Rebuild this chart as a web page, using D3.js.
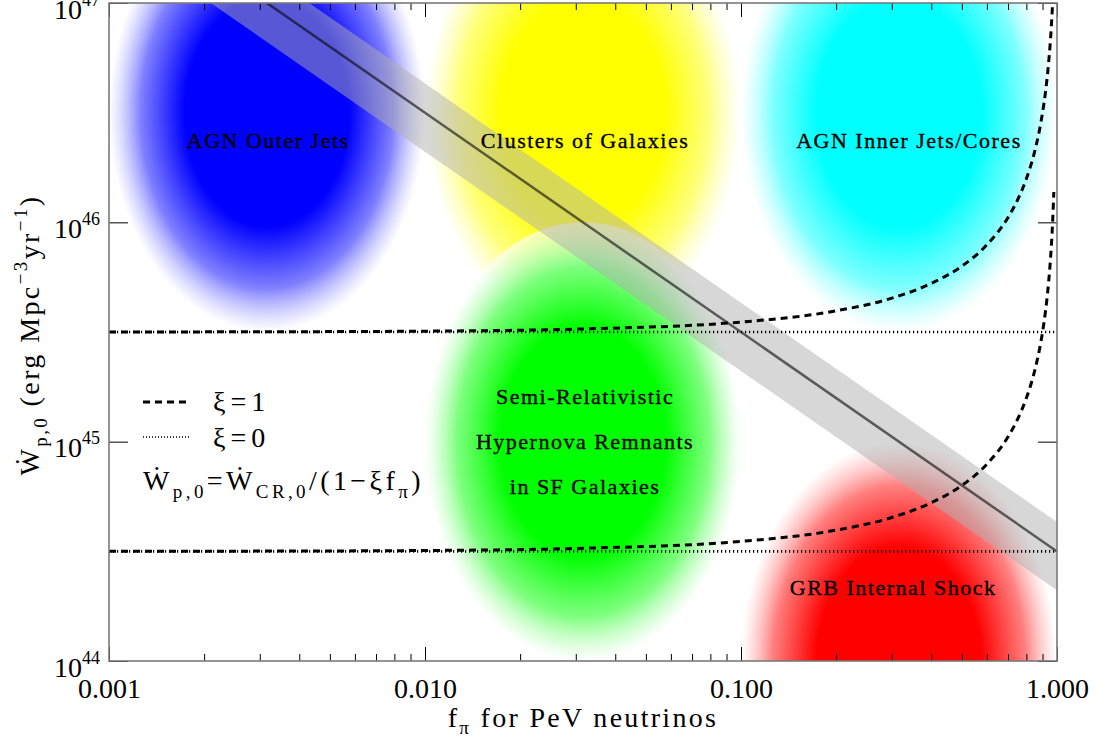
<!DOCTYPE html>
<html>
<head>
<meta charset="utf-8">
<script src="https://cdn.jsdelivr.net/npm/d3@7"></script>
<style>
  html, body { margin: 0; padding: 0; background: #fff; }
  svg { display: block; }
  text { font-family: "Liberation Serif", "DejaVu Serif", serif; fill: #000; }
</style>
</head>
<body>
<svg id="chart" width="1105" height="746"></svg>
<script>
// ---- data ---------------------------------------------------------------
// pion-production efficiency f_pi sampled along the xi = 1 curves
const fPi = [0.001, 0.003, 0.01, 0.03, 0.1, 0.2, 0.3, 0.4, 0.5, 0.6, 0.7, 0.75,
             0.8, 0.85, 0.88, 0.9, 0.92, 0.94, 0.95, 0.96, 0.97, 0.977];
// xi = 1, upper cosmic-ray budget (erg Mpc^-3 yr^-1)
const wXi1High = [3.163e45, 3.17e45, 3.19e45, 3.26e45, 3.51e45, 3.95e45, 4.51e45,
                  5.27e45, 6.32e45, 7.90e45, 1.053e46, 1.264e46, 1.58e46, 2.107e46,
                  2.633e46, 3.16e46, 3.95e46, 5.27e46, 6.32e46, 7.9e46, 1.053e47, 1.374e47];
// xi = 1, lower cosmic-ray budget
const wXi1Low = [3.163e44, 3.17e44, 3.19e44, 3.26e44, 3.51e44, 3.95e44, 4.51e44,
                 5.27e44, 6.32e44, 7.90e44, 1.053e45, 1.264e45, 1.58e45, 2.107e45,
                 2.633e45, 3.16e45, 3.95e45, 5.27e45, 6.32e45, 7.9e45, 1.053e46, 1.374e46];
// xi = 0 levels (flat in f_pi)
const wXi0Levels = [3.16e45, 3.16e44];

// PeV neutrino requirement band: centre and edges at the ends of the f_pi range
const fRange = [0.001, 1];
const bandCenter = [3.16e47, 3.16e44];
const bandUpper = [4.3e47, 4.3e44];
const bandLower = [2.1e47, 2.1e44];

// source classes: centre (f_pi, W) and half extent in decades
const sourceNames = ["AGN Outer Jets", "Clusters of Galaxies", "AGN Inner Jets/Cores",
                     "Semi-Relativistic Hypernova Remnants in SF Galaxies", "GRB Internal Shock"];
const sourceF = [0.00316, 0.0316, 0.316, 0.0316, 0.316];
const sourceW = [3.16e46, 3.16e46, 3.16e46, 1.0e45, 1.0e44];
const sourceHalfF = [0.5, 0.5, 0.5, 0.5, 0.5];
const sourceHalfW = [1.0, 1.0, 1.0, 1.0, 1.0];
const sourceColors = ["#0000ff", "#ffff00", "#00ffff", "#00ff00", "#ff0000"];
const labelLines = [["AGN Outer Jets"], ["Clusters of Galaxies"], ["AGN Inner Jets/Cores"],
                    ["Semi-Relativistic", "Hypernova Remnants", "in SF Galaxies"],
                    ["GRB Internal Shock"]];
const labelF = [0.00319, 0.0321, 0.340, 0.0321, 0.303];
const labelW = [2.35e46, 2.35e46, 2.35e46, 1.0e45, 2.15e44];

// axes
const xTickValues = [0.001, 0.01, 0.1, 1];
const xTickLabels = ["0.001", "0.010", "0.100", "1.000"];
const yTickValues = [1e44, 1e45, 1e46, 1e47];
const yTickExponents = ["44", "45", "46", "47"];

// ---- layout -------------------------------------------------------------
const m = { left: 109, right: 1057, top: 3, bottom: 661 };
const svg = d3.select("#chart");
const x = d3.scaleLog().domain([0.001, 1]).range([m.left, m.right]);
const y = d3.scaleLog().domain([1e44, 1e47]).range([m.bottom, m.top]);

const defs = svg.append("defs");
defs.append("clipPath").attr("id", "plotClip")
  .append("rect")
  .attr("x", m.left).attr("y", m.top)
  .attr("width", m.right - m.left).attr("height", m.bottom - m.top);

// each region: solid core fading out to a translucent white rim
sourceColors.forEach((c, i) => {
  const g = defs.append("radialGradient").attr("id", "blob" + i)
    .attr("cx", "50%").attr("cy", "50%").attr("r", "50%");
  g.append("stop").attr("offset", 0).attr("stop-color", c);
  g.append("stop").attr("offset", 0.52).attr("stop-color", c);
  g.append("stop").attr("offset", 0.8).attr("stop-color", d3.interpolateRgb(c, "#fff")(0.5));
  g.append("stop").attr("offset", 1).attr("stop-color", "#fff").attr("stop-opacity", 0.62);
});

const plot = svg.append("g").attr("clip-path", "url(#plotClip)");

// source regions
plot.selectAll("ellipse.src")
  .data(sourceNames)
  .join("ellipse")
  .attr("class", "src")
  .attr("cx", (d, i) => x(sourceF[i]))
  .attr("cy", (d, i) => y(sourceW[i]))
  .attr("rx", (d, i) => x(sourceF[i] * Math.pow(10, sourceHalfF[i])) - x(sourceF[i]))
  .attr("ry", (d, i) => y(sourceW[i] / Math.pow(10, sourceHalfW[i])) - y(sourceW[i]))
  .attr("fill", (d, i) => `url(#blob${i})`);

// neutrino band
const bandData = fRange.map((f, i) => ({ f, lo: bandLower[i], hi: bandUpper[i], c: bandCenter[i] }));
plot.append("path")
  .datum(bandData)
  .attr("d", d3.area().x(d => x(d.f)).y0(d => y(d.lo)).y1(d => y(d.hi)))
  .attr("fill", "rgb(176,176,176)")
  .attr("fill-opacity", 0.5);
plot.append("path")
  .datum(bandData)
  .attr("d", d3.line().x(d => x(d.f)).y(d => y(d.c)))
  .attr("fill", "none")
  .attr("stroke", "#000")
  .attr("stroke-opacity", 0.58)
  .attr("stroke-width", 2.5);

// xi = 0 (dotted)
wXi0Levels.forEach(w => {
  plot.append("path")
    .datum(fRange.map(f => ({ f, w })))
    .attr("d", d3.line().x(d => x(d.f)).y(d => y(d.w)))
    .attr("fill", "none")
    .attr("stroke", "#000")
    .attr("stroke-width", 2.6)
    .attr("stroke-dasharray", "1.2,2.8");
});

// xi = 1 (dashed)
const curveLine = d3.line().x(d => x(d.f)).y(d => y(d.w)).curve(d3.curveMonotoneX);
[wXi1High, wXi1Low].forEach(series => {
  plot.append("path")
    .datum(fPi.map((f, i) => ({ f, w: series[i] })))
    .attr("d", curveLine)
    .attr("fill", "none")
    .attr("stroke", "#000")
    .attr("stroke-width", 3)
    .attr("stroke-dasharray", "7,5");
});

// source labels
labelLines.forEach((lines, i) => {
  const cx = x(labelF[i]);
  const cy = y(labelW[i]);
  const gap = 45;
  lines.forEach((line, k) => {
    svg.append("text")
      .attr("x", cx)
      .attr("y", cy + (k - (lines.length - 1) / 2) * gap + 7)
      .attr("text-anchor", "middle")
      .attr("font-size", 22)
      .attr("letter-spacing", 1.5)
      .attr("stroke", "#000")
      .attr("stroke-width", 0.35)
      .text(line);
  });
});

// ---- axes ---------------------------------------------------------------
const xMinor = [];
[0.001, 0.01, 0.1].forEach(dec => { for (let k = 2; k <= 9; k++) xMinor.push(dec * k); });

function styleAxis(g) {
  g.select(".domain").remove();
  g.selectAll(".tick line").attr("stroke", "#000").attr("stroke-width", 1);
  g.attr("font-family", null).attr("font-size", null);
}

svg.append("g").attr("transform", `translate(0,${m.bottom})`)
  .call(d3.axisBottom(x).tickValues(xMinor).tickSize(-7).tickFormat(""))
  .call(styleAxis);
svg.append("g").attr("transform", `translate(0,${m.top})`)
  .call(d3.axisTop(x).tickValues(xMinor).tickSize(-7).tickFormat(""))
  .call(styleAxis);
svg.append("g").attr("transform", `translate(0,${m.top})`)
  .call(d3.axisTop(x).tickValues(xTickValues).tickSize(-14).tickFormat(""))
  .call(styleAxis);
const xAxis = svg.append("g").attr("transform", `translate(0,${m.bottom})`)
  .call(d3.axisBottom(x).tickValues(xTickValues).tickSize(-14).tickPadding(17)
        .tickFormat((d, i) => xTickLabels[i]))
  .call(styleAxis);
xAxis.selectAll(".tick text").attr("font-size", 28).attr("fill", "#000");

const yAxis = svg.append("g").attr("transform", `translate(${m.left},0)`)
  .call(d3.axisLeft(y).tickValues(yTickValues).tickSize(-19).tickPadding(9))
  .call(styleAxis);
yAxis.selectAll(".tick text").each(function (d, i) {
  const t = d3.select(this);
  t.text(null).attr("dy", null).attr("y", 15).attr("font-size", 28).attr("fill", "#000");
  t.append("tspan").text("10");
  t.append("tspan").attr("font-size", 18).attr("dy", -13).text(yTickExponents[i]);
});
svg.append("g").attr("transform", `translate(${m.right},0)`)
  .call(d3.axisRight(y).tickValues(yTickValues).tickSize(-19).tickFormat(""))
  .call(styleAxis);

// frame
svg.append("rect")
  .attr("x", m.left).attr("y", m.top)
  .attr("width", m.right - m.left).attr("height", m.bottom - m.top)
  .attr("fill", "none").attr("stroke", "#7a7a7a").attr("stroke-width", 1.6);

// axis titles
const xt = svg.append("text")
  .attr("x", (m.left + m.right) / 2).attr("y", 727)
  .attr("text-anchor", "middle").attr("font-size", 28).attr("letter-spacing", 2.3);
xt.append("tspan").text("f");
xt.append("tspan").attr("font-size", 19).attr("dy", 7).text("π");
xt.append("tspan").attr("dy", -7).text(" for PeV neutrinos");

const yt = svg.append("text")
  .attr("transform", `translate(39,${(m.top + m.bottom) / 2 + 3}) rotate(-90)`)
  .attr("text-anchor", "middle").attr("font-size", 28).attr("letter-spacing", 2.4);
yt.append("tspan").text("Ẇ");
yt.append("tspan").attr("font-size", 19).attr("dy", 8).text("p,0");
yt.append("tspan").attr("dy", -8).text(" (erg Mpc");
yt.append("tspan").attr("font-size", 19).attr("dy", -12).text("−3");
yt.append("tspan").attr("dy", 12).text("yr");
yt.append("tspan").attr("font-size", 19).attr("dy", -12).text("−1");
yt.append("tspan").attr("dy", 12).text(")");

// ---- legend ---------------------------------------------------------------
const lg = svg.append("g");
lg.append("line").attr("x1", 143).attr("x2", 190).attr("y1", 402).attr("y2", 402)
  .attr("stroke", "#000").attr("stroke-width", 3).attr("stroke-dasharray", "7,5");
lg.append("text").attr("x", 213).attr("y", 411).attr("font-size", 28)
  .attr("letter-spacing", 5).text("ξ=1");
lg.append("line").attr("x1", 143).attr("x2", 190).attr("y1", 437).attr("y2", 437)
  .attr("stroke", "#000").attr("stroke-width", 1.6).attr("stroke-dasharray", "1,2");
lg.append("text").attr("x", 213).attr("y", 447).attr("font-size", 28)
  .attr("letter-spacing", 5).text("ξ=0");
const fm = lg.append("text").attr("x", 143).attr("y", 490).attr("font-size", 28)
  .attr("letter-spacing", 3.4);
fm.append("tspan").text("Ẇ");
fm.append("tspan").attr("font-size", 19).attr("dy", 8).text("p,0");
fm.append("tspan").attr("dy", -8).text("=Ẇ");
fm.append("tspan").attr("font-size", 19).attr("dy", 8).text("CR,0");
fm.append("tspan").attr("dy", -8).text("/(1−ξf");
fm.append("tspan").attr("font-size", 19).attr("dy", 8).text("π");
fm.append("tspan").attr("dy", -8).text(")");
</script>
</body>
</html>
